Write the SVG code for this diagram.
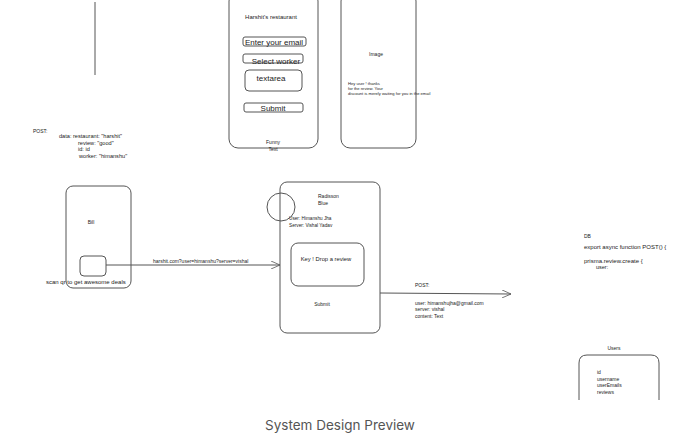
<svg xmlns="http://www.w3.org/2000/svg" width="680" height="433" viewBox="0 0 680 433">
<defs>
<marker id="arr" markerWidth="10" markerHeight="8" refX="9" refY="4" orient="auto" markerUnits="userSpaceOnUse">
<path d="M0,0 L9,4 L0,8" fill="none" stroke="#555" stroke-width="0.8"/>
</marker>
<style>
.s{fill:none;stroke:#555;stroke-width:1}
.t{font-family:"Liberation Sans",Arial,sans-serif;fill:#222;font-size:5px}
.m{font-size:8px}
.c{text-anchor:middle}
</style>
</defs>
<rect width="680" height="433" fill="#fff"/>
<line class="s" x1="95" y1="2" x2="95" y2="75"/>
<g id="phone-form">
<rect class="s" x="229" y="-8" width="89" height="156" rx="9"/>
<text class="t c" x="271" y="19" style="font-size:6px">Harshit's restaurant</text>
<rect class="s" x="243" y="37" width="63" height="9" rx="2"/>
<text class="t m c" x="274" y="45">Enter your email</text>
<rect class="s" x="243" y="54" width="60" height="9" rx="2"/>
<text class="t m c" x="276" y="64">Select worker</text>
<rect class="s" x="245" y="70" width="57" height="21" rx="4"/>
<text class="t m c" x="271" y="81">textarea</text>
<rect class="s" x="244" y="103" width="59" height="9" rx="2"/>
<text class="t m c" x="273" y="111">Submit</text>
<text class="t c" x="273" y="144">Funny</text>
<text class="t c" x="273" y="151">Text</text>
</g>
<g id="phone-thanks">
<rect class="s" x="341" y="-8" width="75" height="156" rx="9"/>
<text class="t c" x="376" y="56">Image</text>
<text class="t" x="348" y="84.5" style="font-size:4.1px">Hey user ! thanks</text>
<text class="t" x="348" y="89.5" style="font-size:4.1px">for the review. Your</text>
<text class="t" x="348" y="95" style="font-size:4.1px">discount is merely waiting for you in the email</text>
</g>
<g id="post-data">
<text class="t" x="33" y="133">POST:</text>
<text class="t" x="59" y="138" style="font-size:5.6px">data: restaurant: "harshit"</text>
<text class="t" x="78" y="145" style="font-size:5.6px">review: "good"</text>
<text class="t" x="78" y="151" style="font-size:5.6px">id: id</text>
<text class="t" x="79" y="158" style="font-size:5.6px">worker: "himanshu"</text>
</g>
<g id="bill">
<rect class="s" x="66" y="186" width="65" height="102" rx="7"/>
<text class="t c" x="91" y="224">Bill</text>
<rect class="s" x="80" y="256" width="26" height="20" rx="4"/>
<text class="t" x="46" y="284" style="font-size:6px">scan qr to get awesome deals</text>
</g>
<g id="review-card">
<rect class="s" x="280" y="182" width="100" height="151" rx="7"/>
<circle class="s" cx="281" cy="207" r="14"/>
<text class="t" x="318" y="198">Radisson</text>
<text class="t" x="318" y="205">Blue</text>
<text class="t" x="289" y="220" style="font-size:4.7px">User: Himanshu Jha</text>
<text class="t" x="289" y="227" style="font-size:4.7px">Server: Vishal Yadav</text>
<rect class="s" x="291" y="243" width="73" height="43" rx="7"/>
<text class="t c" x="326" y="261" style="font-size:5.8px">Key ! Drop a review</text>
<text class="t c" x="322" y="306">Submit</text>
</g>
<g id="db">
<text class="t" x="584" y="238">DB</text>
<text class="t" x="584" y="249" style="font-size:6px">export async function POST() {</text>
<text class="t" x="584" y="263" style="font-size:6px">prisma.review.create {</text>
<text class="t" x="596" y="269" style="font-size:5.5px">user:</text>
</g>
<g id="users">
<text class="t c" x="614" y="350">Users</text>
<path class="s" d="M579,400 L579,363 Q579,355 587,355 L651,355 Q659,355 659,363 L659,400"/>
<text class="t" x="597" y="374">id</text>
<text class="t" x="597" y="381">username</text>
<text class="t" x="597" y="387">userEmails</text>
<text class="t" x="597" y="394">reviews</text>
</g>
<g id="connectors">
<line class="s" x1="106" y1="265" x2="280" y2="265" marker-end="url(#arr)"/>
<text class="t" x="153" y="263" style="font-size:5px">harshit.com?user=himanshu?server=vishal</text>
<line class="s" x1="380" y1="293" x2="511" y2="294" marker-end="url(#arr)"/>
<text class="t" x="415" y="287">POST:</text>
<text class="t" x="415" y="305">user: himanshujha@gmail.com</text>
<text class="t" x="415" y="311">server: vishal</text>
<text class="t" x="415" y="318">content: Text</text>
</g>
<text x="340" y="430" text-anchor="middle" font-family="Inter,'Liberation Sans',sans-serif" font-size="13.5" fill="#555">System Design Preview</text>
</svg>
